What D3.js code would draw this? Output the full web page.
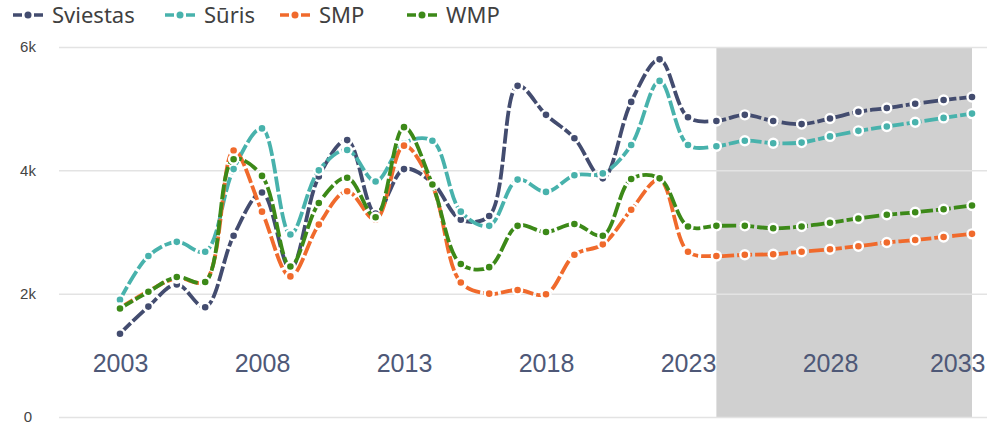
<!DOCTYPE html>
<html>
<head>
<meta charset="utf-8">
<script src="https://cdn.jsdelivr.net/npm/d3@7"></script>
<style>
  body { margin: 0; background: #fff; }
  svg { display: block; }
</style>
</head>
<body>
<div id="chart"></div>
<script>
// years 2003..2033, forecast from 2024
const years = d3.range(2003, 2034);
const forecastStart = 2024;

const sviestas = [1350, 1790, 2150, 1780, 2940, 3640, 2400, 3900, 4490, 3300, 4020, 3800, 3200, 3260, 5370, 4900, 4520, 3870, 5110, 5800, 4860, 4800, 4900, 4800, 4750, 4840, 4950, 5010, 5080, 5140, 5190];
const suris    = [1900, 2610, 2840, 2680, 4020, 4680, 2960, 4000, 4330, 3820, 4440, 4480, 3330, 3100, 3850, 3650, 3920, 3950, 4410, 5450, 4410, 4390, 4480, 4440, 4450, 4550, 4640, 4710, 4780, 4850, 4920];
const smp      = [1770, 2040, 2250, 2200, 4320, 3330, 2280, 3120, 3660, 3200, 4400, 3750, 2180, 2000, 2060, 1990, 2630, 2800, 3360, 3850, 2680, 2610, 2630, 2640, 2680, 2720, 2770, 2830, 2870, 2920, 2970];
const wmp      = [1760, 2030, 2270, 2190, 4180, 3910, 2440, 3470, 3880, 3240, 4700, 3770, 2480, 2430, 3100, 3000, 3130, 2940, 3860, 3870, 3090, 3100, 3100, 3060, 3090, 3150, 3220, 3280, 3320, 3370, 3430];

const seriesNames = ["Sviestas", "Sūris", "SMP", "WMP"];
const seriesValues = [sviestas, suris, smp, wmp];
const colors = ["#434c6f", "#48b2ac", "#f06a2c", "#3c8918"];

const yTicks = [0, 2000, 4000, 6000];
const xTicks = [2003, 2008, 2013, 2018, 2023, 2028, 2033];

const W = 989, H = 424;
const svg = d3.select("#chart").append("svg").attr("width", W).attr("height", H);

const x = d3.scaleLinear().domain([2003, 2033]).range([120, 972]);
const y = d3.scaleLinear().domain([0, 6000]).range([417, 47]);

// forecast shading
svg.append("rect")
    .attr("x", x(forecastStart))
    .attr("y", y(6000) + 1)
    .attr("width", x(2033) - x(forecastStart))
    .attr("height", y(0) - y(6000) - 1)
    .attr("fill", "#d0d0d0");

// y grid + labels
const gy = svg.append("g")
    .attr("transform", "translate(59,0)")
    .call(d3.axisLeft(y).tickValues(yTicks).tickSize(-928)
        .tickFormat(d => d === 0 ? "0" : (d / 1000) + "k"));
gy.select(".domain").remove();
gy.selectAll(".tick line").attr("stroke", "#e3e3e3").attr("stroke-width", 1.5);
gy.selectAll(".tick text")
    .attr("x", -31)
    .attr("text-anchor", "middle")
    .attr("fill", "#444")
    .style("font-family", "'Liberation Sans', Arial, sans-serif")
    .style("font-size", "15px");

// x labels
const gx = svg.append("g")
    .attr("transform", "translate(0,363)")
    .call(d3.axisBottom(x).tickValues(xTicks).tickSize(0).tickFormat(d3.format("d")));
gx.select(".domain").remove();
gx.selectAll(".tick text")
    .attr("y", 0)
    .attr("dy", "0.36em")
    .attr("fill", "#4e5877")
    .style("font-family", "'Liberation Sans', Arial, sans-serif")
    .style("font-size", "25px");
gx.selectAll(".tick text").filter(d => d === 2033)
    .attr("text-anchor", "end")
    .attr("dx", 13);

const line = d3.line()
    .x(d => x(d.year))
    .y(d => y(d.value))
    .curve(d3.curveCatmullRom.alpha(0.5));

seriesNames.forEach((name, i) => {
    const data = years.map((yr, j) => ({ year: yr, value: seriesValues[i][j] }));
    const g = svg.append("g").attr("class", "series");
    g.append("path")
        .datum(data)
        .attr("fill", "none")
        .attr("stroke", colors[i])
        .attr("stroke-width", 3.8)
        .attr("stroke-dasharray", "15,3")
        .attr("d", line);
    g.selectAll("circle")
        .data(data)
        .join("circle")
        .attr("cx", d => x(d.year))
        .attr("cy", d => y(d.value))
        .attr("r", 4.5)
        .attr("fill", colors[i])
        .attr("stroke", "#fff")
        .attr("stroke-width", 2.4);
});

// legend
const legendX = [13, 165, 280, 407];
const legend = svg.append("g").attr("class", "legend");
seriesNames.forEach((name, i) => {
    const lg = legend.append("g").attr("transform", `translate(${legendX[i]},15)`);
    lg.append("line")
        .attr("x1", 0).attr("x2", 9)
        .attr("stroke", colors[i]).attr("stroke-width", 3.5);
    lg.append("line")
        .attr("x1", 21).attr("x2", 30)
        .attr("stroke", colors[i]).attr("stroke-width", 3.5);
    lg.append("circle")
        .attr("cx", 15).attr("r", 3.5)
        .attr("fill", colors[i]);
    lg.append("text")
        .attr("x", 39)
        .attr("dy", "0.35em")
        .attr("fill", "#404040")
        .style("font-family", "'Noto Sans', 'Open Sans', sans-serif")
        .style("font-size", "22px")
        .text(name);
});
</script>
</body>
</html>
